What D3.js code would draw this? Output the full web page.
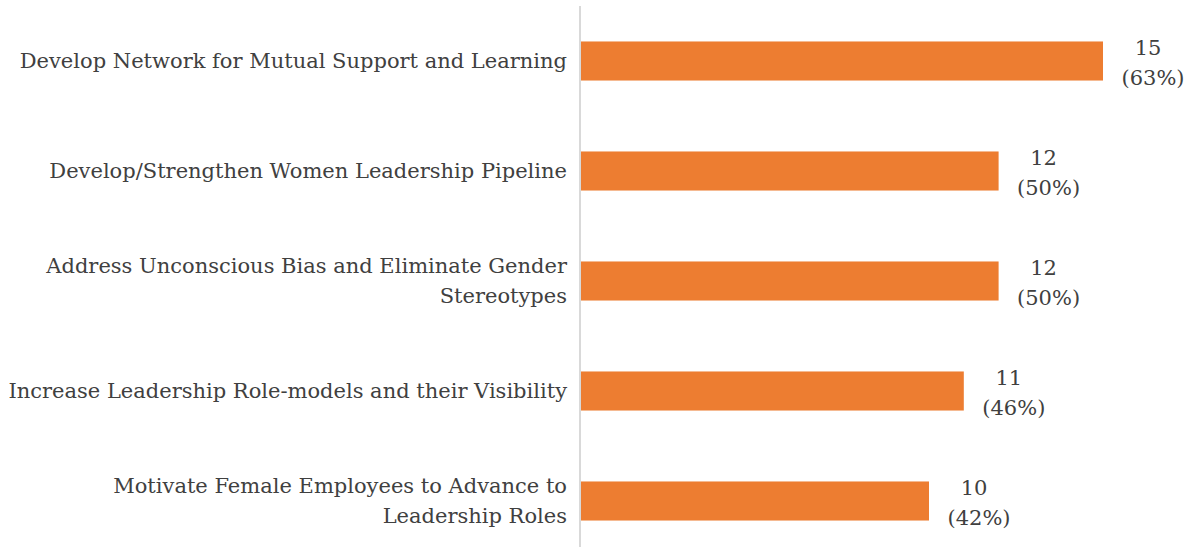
<!DOCTYPE html>
<html>
<head>
<meta charset="utf-8">
<script src="https://cdn.jsdelivr.net/npm/d3@7"></script>
<style>
  body { margin: 0; background: #fff; }
  text { font-family: "DejaVu Serif", "Liberation Serif", serif; fill: #404040; }
</style>
</head>
<body>
<div id="chart"></div>
<script>
var categories = [
    ["Develop Network for Mutual Support and Learning"],
    ["Develop/Strengthen Women Leadership Pipeline"],
    ["Address Unconscious Bias and Eliminate Gender", "Stereotypes"],
    ["Increase Leadership Role-models and their Visibility"],
    ["Motivate Female Employees to Advance to", "Leadership Roles"]
];
var counts = [15, 12, 12, 11, 10];
var percents = ["63%", "50%", "50%", "46%", "42%"];

var width = 1189, height = 547;

var svg = d3.select("#chart").append("svg")
    .attr("width", width)
    .attr("height", height);

var x = d3.scaleLinear().domain([0, 15]).range([581, 1103]);
var y = d3.scaleBand()
    .domain(d3.range(counts.length))
    .range([6, 556])
    .paddingInner(0.645)
    .paddingOuter(0.3225);

// bars
svg.selectAll("rect.bar")
    .data(counts)
    .enter()
    .append("rect")
    .attr("class", "bar")
    .attr("x", x(0))
    .attr("y", function(d, i) { return y(i); })
    .attr("width", function(d) { return x(d) - x(0); })
    .attr("height", y.bandwidth())
    .attr("fill", "#ED7D31");

// category axis line
svg.append("line")
    .attr("x1", 580).attr("x2", 580)
    .attr("y1", 6).attr("y2", 556)
    .attr("stroke", "#d9d9d9")
    .attr("stroke-width", 2);

var fs = 21;
var lh = 30;

// category labels
var cats = svg.selectAll("text.cat")
    .data(categories)
    .enter()
    .append("text")
    .attr("class", "cat")
    .attr("text-anchor", "end")
    .style("font-size", fs + "px");

cats.each(function(lines, i) {
    var cy = y(i) + y.bandwidth() / 2;
    var top = cy - (lines.length - 1) * lh / 2;
    d3.select(this).selectAll("tspan")
        .data(lines)
        .enter()
        .append("tspan")
        .attr("x", 567)
        .attr("y", function(d, j) { return top + j * lh + 6.5; })
        .text(function(d) { return d; });
});

// value labels
var vals = svg.selectAll("text.val")
    .data(counts)
    .enter()
    .append("text")
    .attr("class", "val")
    .attr("text-anchor", "middle")
    .style("font-size", fs + "px");

vals.each(function(d, i) {
    var cy = y(i) + y.bandwidth() / 2;
    var t = d3.select(this);
    t.append("tspan").attr("x", x(d) + 45).attr("y", cy - 6).text(d);
    t.append("tspan").attr("x", x(d) + 50).attr("y", cy + 24).text("(" + percents[i] + ")");
});
</script>
</body>
</html>
